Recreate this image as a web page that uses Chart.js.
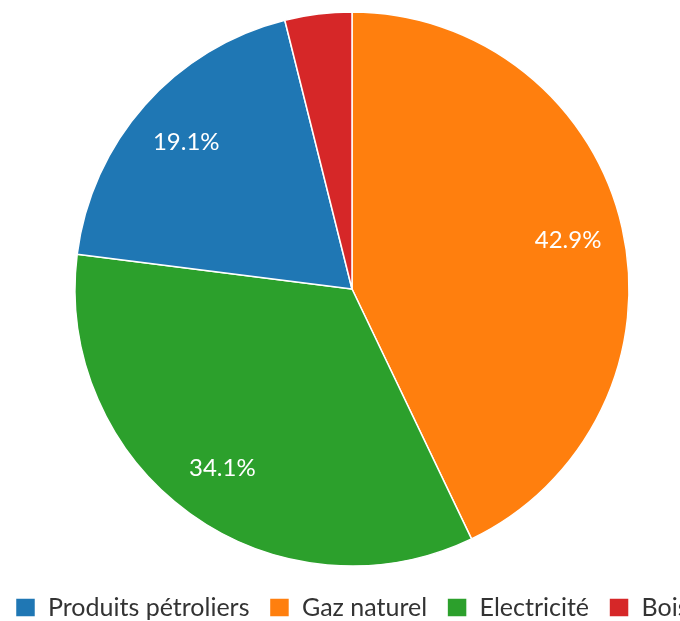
<!DOCTYPE html>
<html>
<head>
<meta charset="utf-8">
<script src="https://cdn.jsdelivr.net/npm/chart.js@4"></script>
<style>
  html, body { margin: 0; padding: 0; background: #fff; overflow: hidden; }
  #pie { display: block; margin-left: -28px; }
</style>
</head>
<body>
<canvas id="pie" width="760" height="630"></canvas>
<script>
// slices, clockwise from 12 o'clock
const categories = ['Gaz naturel', 'Electricité', 'Produits pétroliers', 'Bois'];
const shares = [42.9, 34.1, 19.1, 3.9];
const colors = ['#ff7f0e', '#2ca02c', '#1f77b4', '#d62728'];
// order of the legend entries
const legendOrder = ['Produits pétroliers', 'Gaz naturel', 'Electricité', 'Bois'];

const pctLabels = {
  id: 'pctLabels',
  afterDatasetsDraw(chart) {
    const ctx = chart.ctx;
    const meta = chart.getDatasetMeta(0);
    ctx.save();
    ctx.fillStyle = '#fff';
    ctx.font = '24px Lato';
    ctx.textAlign = 'center';
    ctx.textBaseline = 'middle';
    meta.data.forEach(function (arc, i) {
      if (shares[i] < 5) return;
      var a = (arc.startAngle + arc.endAngle) / 2;
      var r = arc.outerRadius * 0.8;
      ctx.fillText(shares[i].toFixed(1) + '%', arc.x + Math.cos(a) * r, arc.y + Math.sin(a) * r);
    });
    ctx.restore();
  }
};

new Chart(document.getElementById('pie'), {
  type: 'pie',
  data: {
    labels: categories,
    datasets: [{
      data: shares,
      backgroundColor: colors,
      borderColor: '#fff',
      borderWidth: 1.5,
      radius: 277
    }]
  },
  options: {
    responsive: false,
    animation: false,
    layout: { padding: { top: 3, bottom: 0 } },
    plugins: {
      tooltip: { enabled: false },
      legend: {
        position: 'bottom',
        labels: {
          boxWidth: 20,
          boxHeight: 19,
          padding: 20,
          color: '#333',
          font: { family: 'Lato', size: 25 },
          sort: function (a, b) {
            return legendOrder.indexOf(a.text) - legendOrder.indexOf(b.text);
          }
        }
      }
    }
  },
  plugins: [pctLabels]
});
</script>
</body>
</html>
